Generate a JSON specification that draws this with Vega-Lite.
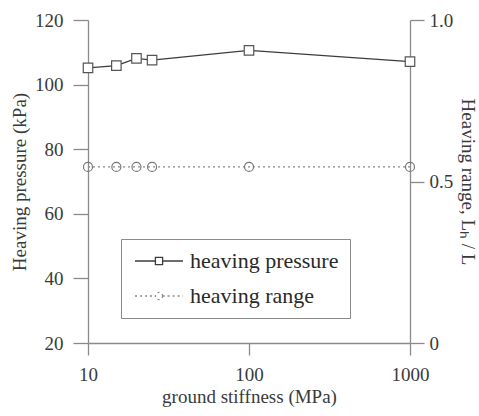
{
  "$schema": "https://vega.github.io/schema/vega-lite/v6.json",
  "width": 322,
  "height": 323,
  "autosize": {"type": "none"},
  "padding": {"left": 88, "top": 20, "right": 69, "bottom": 73},
  "background": "white",
  "config": {
    "view": {"stroke": null},
    "font": "Liberation Serif",
    "text": {"font": "Liberation Serif"},
    "axis": {
      "grid": false,
      "domainColor": "#8a8a8a",
      "domainWidth": 1.3,
      "tickColor": "#8a8a8a",
      "tickWidth": 1.3,
      "labelFont": "Liberation Serif",
      "labelFontSize": 19,
      "labelColor": "#3a3a3a",
      "titleFont": "Liberation Serif",
      "titleFontSize": 19,
      "titleFontWeight": "normal",
      "titleColor": "#3a3a3a"
    },
    "legend": {"labelFont": "Liberation Serif", "titleFont": "Liberation Serif"}
  },
  "data": {
    "values": [
      {"stiffness": 10, "series": "heaving pressure", "value": 105.2},
      {"stiffness": 15, "series": "heaving pressure", "value": 105.9},
      {"stiffness": 20, "series": "heaving pressure", "value": 108.1},
      {"stiffness": 25, "series": "heaving pressure", "value": 107.6},
      {"stiffness": 100, "series": "heaving pressure", "value": 110.6},
      {"stiffness": 1000, "series": "heaving pressure", "value": 107.1},
      {"stiffness": 10, "series": "heaving range", "value": 0.545},
      {"stiffness": 15, "series": "heaving range", "value": 0.545},
      {"stiffness": 20, "series": "heaving range", "value": 0.545},
      {"stiffness": 25, "series": "heaving range", "value": 0.545},
      {"stiffness": 100, "series": "heaving range", "value": 0.545},
      {"stiffness": 1000, "series": "heaving range", "value": 0.545}
    ]
  },
  "encoding": {
    "x": {
      "field": "stiffness",
      "type": "quantitative",
      "scale": {"type": "log", "domain": [10, 1000]},
      "axis": {
        "title": "ground stiffness (MPa)",
        "values": [10, 100, 1000],
        "format": "d",
        "labelFont": "Liberation Serif",
        "titleFont": "Liberation Serif",
        "tickSize": 12,
        "labelPadding": 10,
        "titlePadding": 3,
        "labelFlush": false
      }
    }
  },
  "layer": [
    {
      "transform": [{"filter": "datum.series === 'heaving pressure'"}],
      "encoding": {
        "y": {
          "field": "value",
          "type": "quantitative",
          "scale": {"domain": [20, 120]},
          "axis": {
            "orient": "left",
            "title": "Heaving pressure (kPa)",
            "values": [20, 40, 60, 80, 100, 120],
            "labelFont": "Liberation Serif",
            "titleFont": "Liberation Serif",
            "tickSize": 15,
            "labelPadding": 10,
            "titlePadding": 5
          }
        }
      },
      "layer": [
        {
          "mark": {"type": "line", "strokeWidth": 1.3},
          "encoding": {
            "color": {
              "field": "series",
              "type": "nominal",
              "scale": {"domain": ["heaving pressure", "heaving range"], "range": ["#3c3c3c", "#8a8a8a"]},
              "legend": {
                "title": null,
                "orient": "none",
                "legendX": 33,
                "legendY": 219,
                "direction": "vertical",
                "strokeColor": "#8a8a8a",
                "fillColor": "white",
                "padding": 11,
                "labelFont": "Liberation Serif",
                "labelFontSize": 22,
                "labelColor": "#2a2a2a",
                "labelOffset": 20,
                "symbolOffset": 16,
                "symbolSize": 400,
                "symbolStrokeWidth": 1.3,
                "symbolFillColor": "white",
                "rowPadding": 13,
                "encode": {
                  "symbols": {
                    "update": {
                      "shape": {"signal": "datum.value === 'heaving pressure' ? 'M-2.4,0H-0.36M0.36,0H2.4M-0.36,-0.36H0.36V0.36H-0.36Z' : 'M-2.4,0H-0.36M0.36,0H2.4M0.36,0A0.36,0.36 0 1,1 -0.36,0A0.36,0.36 0 1,1 0.36,0Z'"},
                      "strokeDash": {"signal": "datum.value === 'heaving pressure' ? [1, 0] : [2, 3]"}
                    }
                  }
                }
              }
            }
          }
        },
        {
          "mark": {"type": "point", "shape": "square", "size": 90, "filled": true, "fill": "white", "stroke": "#555555", "strokeWidth": 1.2, "opacity": 1}
        }
      ]
    },
    {
      "transform": [{"filter": "datum.series === 'heaving range'"}],
      "encoding": {
        "y": {
          "field": "value",
          "type": "quantitative",
          "scale": {"domain": [0, 1]},
          "axis": {
            "orient": "right",
            "title": "Heaving range, Lₕ / L",
            "values": [0, 0.5, 1],
            "labelExpr": "datum.value === 0 ? '0' : format(datum.value, '.1f')",
            "labelFont": "Liberation Serif",
            "titleFont": "Liberation Serif",
            "tickSize": 14,
            "labelPadding": 5,
            "titlePadding": 5
          }
        }
      },
      "layer": [
        {
          "mark": {"type": "line", "strokeWidth": 1.3, "strokeDash": [2, 3]},
          "encoding": {
            "color": {"field": "series", "type": "nominal"}
          }
        },
        {
          "mark": {"type": "point", "shape": "circle", "size": 81, "filled": true, "fill": "white", "fillOpacity": 0, "stroke": "#777777", "strokeWidth": 1.2, "opacity": 1}
        }
      ]
    }
  ],
  "resolve": {"scale": {"y": "independent"}}
}
